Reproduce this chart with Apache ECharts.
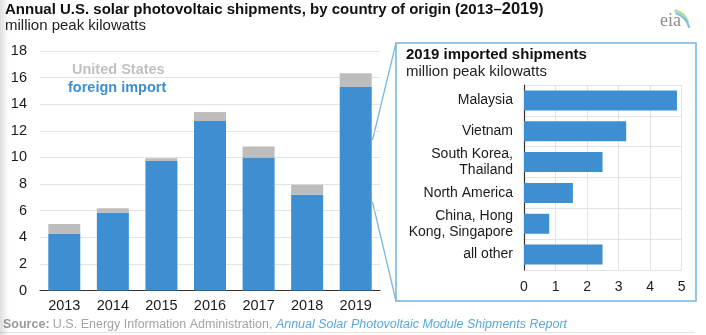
<!DOCTYPE html>
<html>
<head>
<meta charset="utf-8">
<script src="https://cdn.jsdelivr.net/npm/echarts@6/dist/echarts.min.js"></script>
<style>
html,body{margin:0;padding:0;background:#fff;}
#chart{width:706px;height:335px;}
</style>
</head>
<body>
<div id="chart"></div>
<script>
// ---- data ----
var years = ['2013', '2014', '2015', '2016', '2017', '2018', '2019'];
var foreignImport = [4.29, 5.84, 9.74, 12.74, 9.99, 7.19, 15.29];
var unitedStates = [0.70, 0.35, 0.20, 0.67, 0.83, 0.75, 1.03];
var yTicks = [0, 2, 4, 6, 8, 10, 12, 14, 16, 18];

var origins = ['Malaysia', 'Vietnam', 'South Korea,\nThailand', 'North America', 'China, Hong\nKong, Singapore', 'all other'];
var imports2019 = [4.85, 3.24, 2.49, 1.55, 0.80, 2.49];
var xTicksInset = [0, 1, 2, 3, 4, 5];

var BLUE = '#3d8fd1';
var GREY = '#bdbdbd';
var SANS = '"Liberation Sans", Arial, sans-serif';

var chart = echarts.init(document.getElementById('chart'), null, {renderer: 'canvas'});

var option = {
  backgroundColor: '#fff',
  animation: false,
  grid: [
    {left: 40, right: 326, top: 51, bottom: 44.5},
    {left: 524, right: 24.3, top: 85, bottom: 65}
  ],
  xAxis: [
    {
      gridIndex: 0, type: 'category', data: years,
      axisLine: {show: true, lineStyle: {color: '#333', width: 1.2}},
      axisTick: {show: false},
      axisLabel: {color: '#1a1a1a', fontSize: 14.5, fontFamily: SANS, margin: 8}
    },
    {
      gridIndex: 1, type: 'value', min: xTicksInset[0], max: xTicksInset[xTicksInset.length - 1], interval: 1,
      axisLine: {show: false}, axisTick: {show: false},
      axisLabel: {color: '#1a1a1a', fontSize: 14, fontFamily: SANS, margin: 10},
      splitLine: {show: true, lineStyle: {color: '#e3e3e3', width: 1}}
    }
  ],
  yAxis: [
    {
      gridIndex: 0, type: 'value', min: yTicks[0], max: yTicks[yTicks.length - 1], interval: 2,
      axisLine: {show: false}, axisTick: {show: false},
      axisLabel: {color: '#1a1a1a', fontSize: 14.5, fontFamily: SANS, margin: 13},
      splitLine: {lineStyle: {color: '#e3e3e3', width: 1}}
    },
    {
      gridIndex: 1, type: 'category', data: origins, inverse: true,
      axisLine: {show: true, lineStyle: {color: '#333', width: 1.2}},
      axisTick: {show: false},
      axisLabel: {color: '#1a1a1a', fontSize: 14, fontFamily: SANS, margin: 11, lineHeight: 16, align: 'right'},
      splitLine: {show: true, lineStyle: {color: '#e3e3e3', width: 1}}
    }
  ],
  series: [
    {
      name: 'foreign import', type: 'bar', stack: 'total', xAxisIndex: 0, yAxisIndex: 0,
      data: foreignImport, barWidth: 32, itemStyle: {color: BLUE}
    },
    {
      name: 'United States', type: 'bar', stack: 'total', xAxisIndex: 0, yAxisIndex: 0,
      data: unitedStates, barWidth: 32, itemStyle: {color: GREY}
    },
    {
      name: '2019 imports', type: 'bar', xAxisIndex: 1, yAxisIndex: 1,
      data: imports2019, barWidth: 20, itemStyle: {color: BLUE}
    }
  ],
  graphic: [
    // left edge shadow
    {type: 'rect', x: 0, y: 0, shape: {width: 9, height: 335}, silent: true, z: 100,
     style: {fill: new echarts.graphic.LinearGradient(0, 0, 1, 0, [{offset: 0, color: 'rgba(0,0,0,0.13)'}, {offset: 1, color: 'rgba(0,0,0,0)'}])}},
    // title
    {type: 'text', x: 5, y: 1, style: {
      text: '{t|Annual U.S. solar photovoltaic shipments, by country of origin (2013–}{b|2019}{t|)}',
      verticalAlign: 'top',
      rich: {
        t: {fontFamily: SANS, fontWeight: 'bold', fontSize: 15, fill: '#111'},
        b: {fontFamily: SANS, fontWeight: 'bold', fontSize: 16.5, fill: '#111'}
      }
    }},
    {type: 'text', x: 5, y: 18, style: {text: 'million peak kilowatts', verticalAlign: 'top', fontFamily: SANS, fontSize: 15, fill: '#222'}},
    // in-plot legend
    {type: 'text', left: 72, top: 62, style: {text: 'United States', fontFamily: SANS, fontWeight: 'bold', fontSize: 14.5, fill: '#c0c0c0'}},
    {type: 'text', left: 68, top: 80, style: {text: 'foreign import', fontFamily: SANS, fontWeight: 'bold', fontSize: 14.5, fill: BLUE}},
    // inset box
    {type: 'rect', shape: {x: 396, y: 43, width: 300, height: 258}, silent: true,
     style: {fill: 'none', stroke: '#72b4de', lineWidth: 1.5}},
    {type: 'line', shape: {x1: 372.5, y1: 140, x2: 396, y2: 43}, silent: true, style: {stroke: '#72b4de', lineWidth: 1.2}},
    {type: 'line', shape: {x1: 372.5, y1: 202, x2: 396, y2: 301}, silent: true, style: {stroke: '#72b4de', lineWidth: 1.2}},
    {type: 'text', left: 406, top: 47, style: {text: '2019 imported shipments', fontFamily: SANS, fontWeight: 'bold', fontSize: 15, fill: '#111'}},
    {type: 'text', left: 406, top: 64, style: {text: 'million peak kilowatts', fontFamily: SANS, fontSize: 15, fill: '#222'}},
    // eia logo
    {type: 'arc', shape: {cx: 671, cy: 28, r: 18, startAngle: -Math.PI * 0.44, endAngle: -Math.PI * 0.1}, silent: true,
     style: {stroke: '#b5d99a', lineWidth: 2.2, fill: 'none'}},
    {type: 'arc', shape: {cx: 669, cy: 33, r: 21, startAngle: -Math.PI * 0.4, endAngle: -Math.PI * 0.08}, silent: true,
     style: {stroke: '#7dbde5', lineWidth: 2.2, fill: 'none'}},
    {type: 'text', x: 660, y: 12, style: {text: 'eia', verticalAlign: 'top', fontFamily: '"Liberation Serif", serif', fontSize: 18, fill: '#8a8f93'}},
    // source
    {type: 'text', x: 3, y: 318, style: {
      text: '{s|Source:} {n|U.S. Energy Information Administration, }{i|Annual Solar Photovoltaic Module Shipments Report}',
      verticalAlign: 'top',
      rich: {
        s: {fontFamily: SANS, fontWeight: 'bold', fontSize: 12.5, fill: '#9a9a9a'},
        n: {fontFamily: SANS, fontSize: 12.5, fill: '#a3a3a3'},
        i: {fontFamily: SANS, fontStyle: 'italic', fontSize: 12.5, fill: '#5aa7da'}
      }
    }},
    {type: 'line', shape: {x1: 0, y1: 332.5, x2: 695, y2: 332.5}, silent: true, style: {stroke: '#e2e2e2', lineWidth: 1}}
  ]
};
chart.setOption(option);
</script>
</body>
</html>
